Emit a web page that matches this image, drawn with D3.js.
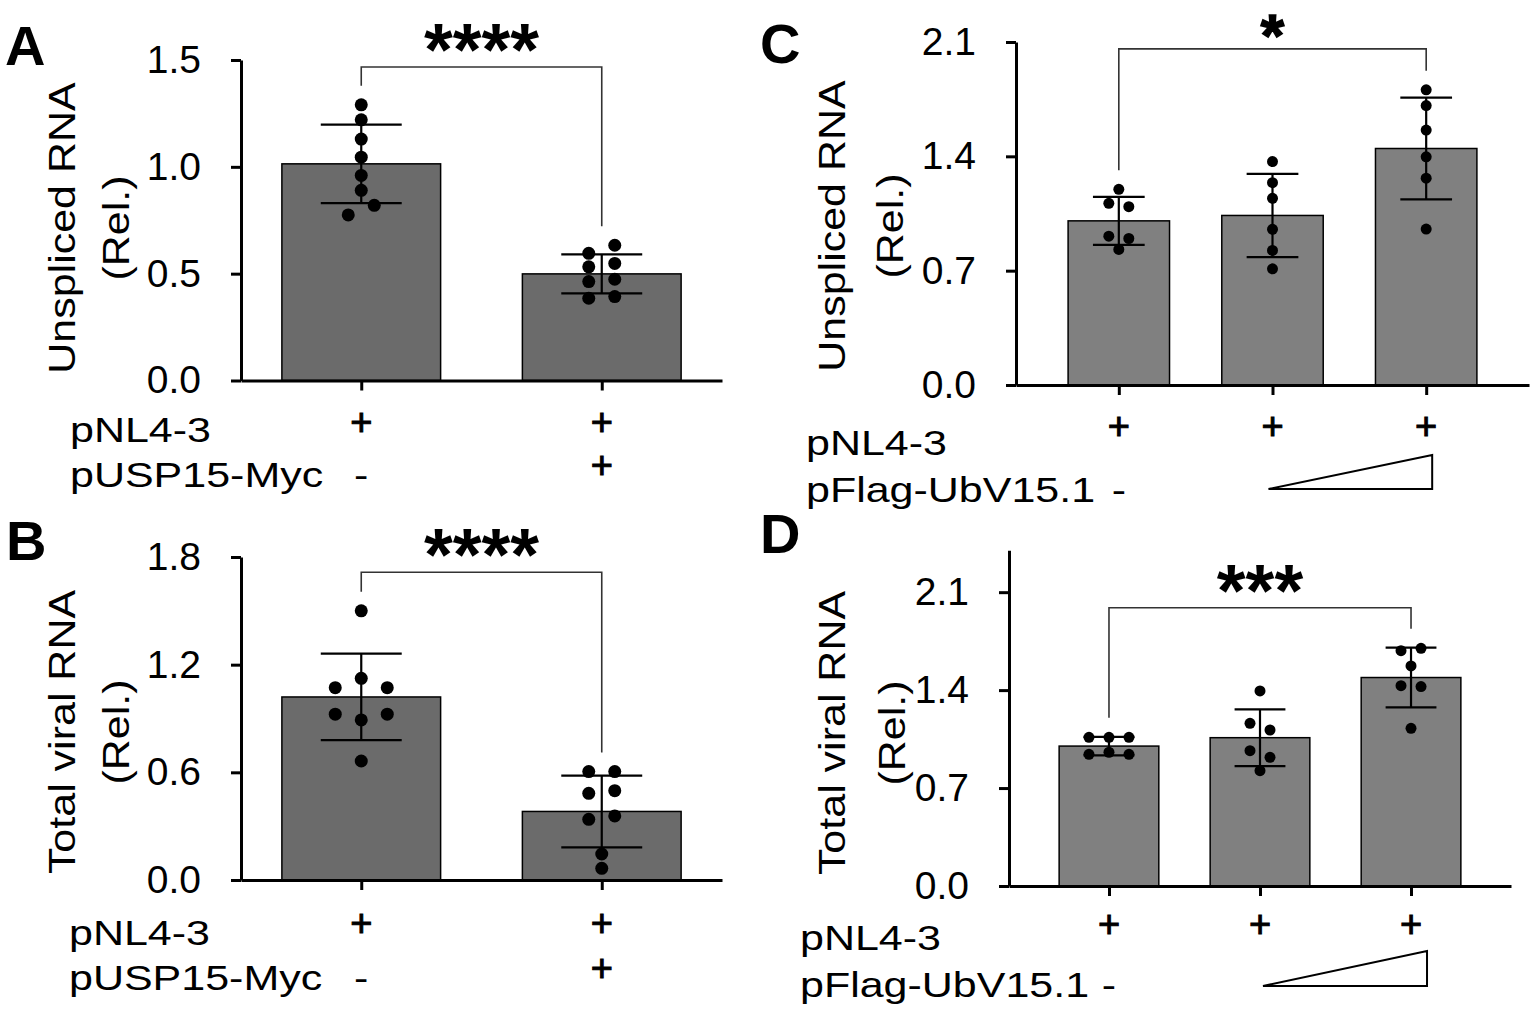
<!DOCTYPE html>
<html>
<head>
<meta charset="utf-8">
<script src="https://cdn.jsdelivr.net/npm/d3@7"></script>
<style>
  body { margin: 0; background: #fff; }
  text { font-family: "Liberation Sans", Arial, sans-serif; fill: #000; }
</style>
</head>
<body>
<script>
// ---- data ----
const catsAB = ['pNL4-3', 'pNL4-3 + pUSP15-Myc'];
const catsCD = ['pNL4-3', 'pNL4-3 + UbV15.1 low', 'pNL4-3 + UbV15.1 high'];

const rowLabelsAB = ['pNL4-3', 'pUSP15-Myc'];
const rowLabelsCD = ['pNL4-3', 'pFlag-UbV15.1'];
const rowMarksAB = [['+', '+'], ['-', '+']];
const rowMarksCD = [['+', '+', '+'], ['-', '', '']];

const ticksA = [0, 0.5, 1.0, 1.5];
const ticksB = [0, 0.6, 1.2, 1.8];
const ticksCD = [0, 0.7, 1.4, 2.1];

const meanA = [1.014, 0.499];
const sdA = [0.184, 0.091];
const ptsA = [[1.29, 1.22, 1.13, 1.045, 0.96, 0.89, 0.82, 0.775],
              [0.633, 0.595, 0.548, 0.532, 0.474, 0.463, 0.393, 0.385]];
const slotA = [[0, 0, 0, 0, 0, 0, 1, -1], [1, -1, 1, -1, 1, -1, 1, -1]];

const meanB = [1.02, 0.382];
const sdB = [0.241, 0.2];
const ptsB = [[1.50, 1.124, 1.072, 1.072, 0.924, 0.924, 0.892, 0.663],
              [0.604, 0.604, 0.498, 0.483, 0.357, 0.338, 0.145, 0.065]];
const slotB = [[0, 0, -2, 2, -2, 2, 0, 0], [-1, 1, 1, -1, 1, -1, 0, 0]];

const meanC = [1.005, 1.038, 1.448];
const sdC = [0.147, 0.255, 0.312];
const ptsC = [[1.198, 1.112, 1.092, 0.911, 0.897, 0.830],
              [1.368, 1.239, 1.143, 0.953, 0.824, 0.711],
              [1.807, 1.711, 1.561, 1.397, 1.266, 0.955]];
const slotC = [[0, -1, 1, -1, 1, 0], [0, 0, 0, 0, 0, 0], [0, 0, 0, 0, 0, 0]];

const meanD = [1.0, 1.06, 1.49];
const sdD = [0.066, 0.203, 0.213];
const ptsD = [[1.063, 1.063, 1.063, 0.956, 0.941, 0.941],
              [1.394, 1.163, 1.115, 0.967, 0.920, 0.824],
              [1.699, 1.682, 1.573, 1.432, 1.425, 1.127]];
const slotD = [[-2, 0, 2, 0, -2, 2], [0, -1, 1, -1, 1, 0], [1, -1, 0, -1, 1, 0]];

// significance: [group i, group j, label, bracket level]
const sigA = [0, 1, '****', 1.467];
const sigB = [0, 1, '****', 1.715];
const sigC = [0, 2, '*', 2.058];
const sigD = [0, 2, '***', 1.989];

// ---- layout ----
const size = {w: 1535, h: 1013};
const svg = d3.select('body').append('svg')
    .attr('width', size.w)
    .attr('height', size.h);
svg.append('rect').attr('width', size.w).attr('height', size.h).attr('fill', '#fff');

const panels = [
  {letter: 'A', lx: 5, ly: 65, cats: catsAB, mean: meanA, sd: sdA, pts: ptsA, slot: slotA, sig: sigA,
   ticks: ticksA, ymax: 1.5, y0: 380.5, yTop: 60, x0: 241, x1: 722, pad: 0.5, fill: '#6b6b6b',
   dotR: 6.5, step: 13, title: ['Unspliced RNA', '(Rel.)'], tx: [75, 129], ty: 228,
   rows: rowLabelsAB, marks: rowMarksAB, rowX: 70, rowBase: [442, 487], plusY: [422, 465],
   star: 74},
  {letter: 'B', lx: 6, ly: 560, cats: catsAB, mean: meanB, sd: sdB, pts: ptsB, slot: slotB, sig: sigB,
   ticks: ticksB, ymax: 1.8, y0: 880, yTop: 557, x0: 241, x1: 722, pad: 0.5, fill: '#6b6b6b',
   dotR: 6.5, step: 13, title: ['Total viral RNA', '(Rel.)'], tx: [75, 129], ty: 732,
   rows: rowLabelsAB, marks: rowMarksAB, rowX: 69, rowBase: [945, 990], plusY: [923, 968],
   star: 74},
  {letter: 'C', lx: 760, ly: 63, cats: catsCD, mean: meanC, sd: sdC, pts: ptsC, slot: slotC, sig: sigC,
   ticks: ticksCD, ymax: 2.1, y0: 385, yTop: 42, x0: 1016, x1: 1529, pad: 0.669, fill: '#808080',
   dotR: 5.5, step: 10, title: ['Unspliced RNA', '(Rel.)'], tx: [845, 903], ty: 226,
   rows: rowLabelsCD, marks: rowMarksCD, rowX: 806, rowBase: [455, 502], plusY: [426, 486],
   tri: [-4, 6, 13, 47], star: 60},
  {letter: 'D', lx: 760, ly: 553, cats: catsCD, mean: meanD, sd: sdD, pts: ptsD, slot: slotD, sig: sigD,
   ticks: ticksCD, ymax: 2.4, y0: 886, yTop: 550.2, x0: 1009, x1: 1511, pad: 0.662, fill: '#808080',
   dotR: 5.5, step: 10, title: ['Total viral RNA', '(Rel.)'], tx: [845, 905], ty: 733,
   rows: rowLabelsCD, marks: rowMarksCD, rowX: 800, rowBase: [950, 997], plusY: [924, 980],
   tri: [3, 16, 11, 46], star: 74}
];

const labelSize = 43, squash = 0.8;

function squashText(parent, x, y, str, anchor) {
  return parent.append('g')
      .attr('transform', `translate(${x},${y}) scale(1,${squash})`)
    .append('text')
      .attr('text-anchor', anchor || 'start')
      .attr('font-size', labelSize)
      .text(str);
}

panels.forEach(p => {
  const g = svg.append('g').classed('panel', true);

  const y = d3.scaleLinear().domain([0, p.ymax]).range([p.y0, p.yTop]);
  const x = d3.scalePoint().domain(p.cats).range([p.x0, p.x1]).padding(p.pad);
  const jitter = d3.scaleLinear().domain([-1, 1]).range([-p.step, p.step]);
  const bw = x.step() * 0.66;
  const cap = bw * 0.51;

  // bars
  g.append('g').selectAll('rect')
    .data(p.mean)
    .join('rect')
      .attr('x', (d, i) => x(p.cats[i]) - bw / 2)
      .attr('y', d => y(d))
      .attr('width', bw)
      .attr('height', d => y(0) - y(d))
      .attr('fill', p.fill)
      .attr('stroke', '#000')
      .attr('stroke-width', 1.5);

  // error bars
  const eb = g.append('g').attr('stroke', '#000').attr('stroke-width', 2.2);
  p.mean.forEach((m, i) => {
    const cx = x(p.cats[i]);
    const hi = y(m + p.sd[i]), lo = y(m - p.sd[i]);
    eb.append('line').attr('x1', cx).attr('x2', cx).attr('y1', hi).attr('y2', lo);
    eb.append('line').attr('x1', cx - cap / 2).attr('x2', cx + cap / 2).attr('y1', hi).attr('y2', hi);
    eb.append('line').attr('x1', cx - cap / 2).attr('x2', cx + cap / 2).attr('y1', lo).attr('y2', lo);
  });

  // dots
  const dots = [];
  p.pts.forEach((arr, i) => arr.forEach((v, k) => dots.push({cat: p.cats[i], v: v, s: p.slot[i][k]})));
  g.append('g').selectAll('circle')
    .data(dots)
    .join('circle')
      .attr('cx', d => x(d.cat) + jitter(d.s))
      .attr('cy', d => y(d.v))
      .attr('r', p.dotR)
      .attr('fill', '#000');

  // axes
  const yAxis = d3.axisLeft(y).tickValues(p.ticks).tickFormat(d3.format('.1f'))
      .tickSize(10).tickSizeOuter(0).tickPadding(30);
  const ya = g.append('g').attr('transform', `translate(${p.x0},0)`).call(yAxis);
  ya.selectAll('path, line').attr('stroke', '#000').attr('stroke-width', 3);
  ya.selectAll('text').attr('font-size', 39).attr('fill', '#000')
      .style('font-family', '"Liberation Sans", Arial, sans-serif');

  const xAxis = d3.axisBottom(x).tickSize(10).tickSizeOuter(0).tickFormat('');
  const xa = g.append('g').attr('transform', `translate(0,${p.y0})`).call(xAxis);
  xa.selectAll('path, line').attr('stroke', '#000').attr('stroke-width', 3);

  // y title, two lines
  p.title.forEach((t, i) => {
    g.append('g')
        .attr('transform', `translate(${p.tx[i]},${p.ty}) rotate(-90) scale(1,0.85)`)
      .append('text')
        .attr('text-anchor', 'middle')
        .attr('font-size', labelSize)
        .text(t);
  });

  // significance bracket
  const [si, sj, slab, slev] = p.sig;
  const topOf = i => d3.min([y(d3.max(p.pts[i])), y(p.mean[i] + p.sd[i])]) - 19;
  const xa1 = x(p.cats[si]), xa2 = x(p.cats[sj]), by = y(slev);
  const small = p.star < 70;
  g.append('path')
      .attr('d', `M${xa1},${topOf(si)}V${by}H${xa2}V${topOf(sj)}`)
      .attr('fill', 'none')
      .attr('stroke', '#333')
      .attr('stroke-width', 1.6);
  g.append('text')
      .attr('x', (xa1 + xa2) / 2)
      .attr('y', by - 29 + p.star * (small ? 0.6 : 0.5))
      .attr('text-anchor', 'middle')
      .attr('font-size', p.star)
      .attr('font-weight', 'bold')
      .attr('stroke', '#000')
      .attr('stroke-width', small ? 1.6 : 0)
      .text(slab);

  // panel letter
  g.append('text')
      .attr('x', p.lx).attr('y', p.ly)
      .attr('font-size', 56).attr('font-weight', 'bold')
      .text(p.letter);

  // condition rows
  p.rows.forEach((r, ri) => {
    squashText(g, p.rowX, p.rowBase[ri], r);
    p.marks[ri].forEach((m, ci) => {
      const cx = x(p.cats[ci]);
      if (m === '+') {
        g.append('text')
            .attr('x', cx).attr('y', p.plusY[ri] + 13)
            .attr('text-anchor', 'middle')
            .attr('font-size', 38)
            .attr('stroke', '#000')
            .attr('stroke-width', 1)
            .text('+');
      } else if (m === '-') {
        squashText(g, cx, p.rowBase[ri], '-', 'middle');
      }
    });
  });

  // increasing-dose wedge
  if (p.tri) {
    const xl = x(p.cats[1]) + p.tri[0], xr = x(p.cats[2]) + p.tri[1];
    const yb = p.rowBase[1] - p.tri[2], yt = p.rowBase[1] - p.tri[3];
    g.append('path')
        .attr('d', `M${xl},${yb}L${xr},${yt}L${xr},${yb}Z`)
        .attr('fill', '#fff')
        .attr('stroke', '#000')
        .attr('stroke-width', 2);
  }
});
</script>
</body>
</html>
